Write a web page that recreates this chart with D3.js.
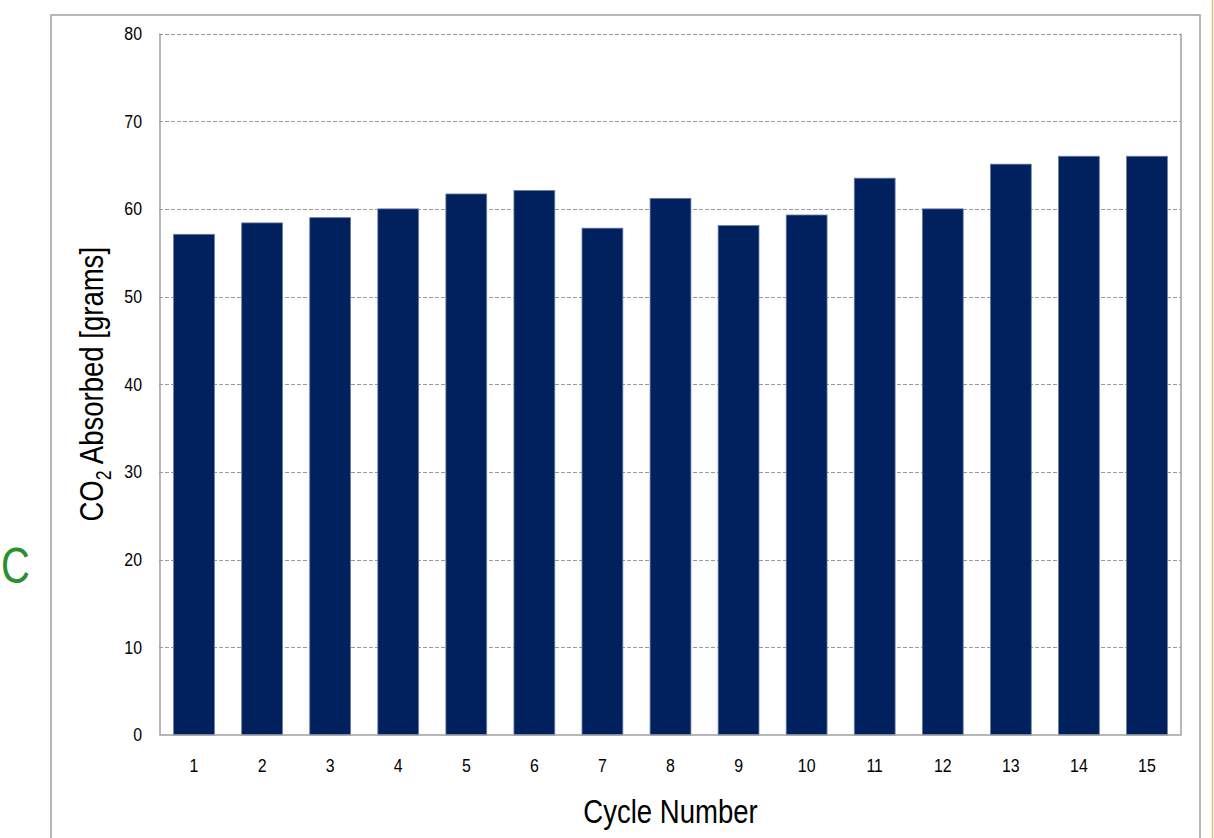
<!DOCTYPE html>
<html>
<head>
<meta charset="utf-8">
<script src="https://cdn.jsdelivr.net/npm/d3@7"></script>
<style>
  html, body { margin: 0; padding: 0; background: #fff; }
  svg { display: block; }
  text { font-family: "Liberation Sans", Arial, sans-serif; }
</style>
</head>
<body>
<svg id="chart" width="1214" height="838"></svg>
<script>
const categories = ["1","2","3","4","5","6","7","8","9","10","11","12","13","14","15"];
const values = [57.1, 58.4, 59.0, 60.0, 61.7, 62.1, 57.8, 61.2, 58.1, 59.3, 63.5, 60.0, 65.1, 66.0, 66.0];
const yTicks = [0, 10, 20, 30, 40, 50, 60, 70, 80];
const yTitle = "CO";
const xTitle = "Cycle Number";

const NARROW = 0.81;
const svg = d3.select("#chart");
const W = 1214, H = 838;
const m = { left: 160, right: 1181, top: 33.5, bottom: 735 };

// outer frame
svg.append("path")
  .attr("d", `M51,${H + 2} L51,15 L1200,15 L1200,${H + 2}`)
  .attr("fill", "none").attr("stroke", "#a0a0a0").attr("stroke-width", 1.5);
// gold vertical line at right
svg.append("line").attr("x1", 1212.5).attr("x2", 1212.5).attr("y1", 0).attr("y2", H)
  .attr("stroke", "#d8c08a").attr("stroke-width", 1.5);

// green C
svg.append("text").attr("transform", "translate(1,583) scale(0.8,1)")
  .attr("font-size", 50).attr("fill", "#2a8f2f").text("C");

const x = d3.scaleBand().domain(categories).range([m.left, m.right]).paddingInner(0.4).paddingOuter(0.2);
const y = d3.scaleLinear().domain([0, 80]).range([m.bottom, m.top]);

// gridlines
svg.append("g").selectAll("line").data(yTicks.filter(d => d > 0)).join("line")
  .attr("x1", m.left - 1).attr("x2", m.right)
  .attr("y1", d => Math.round(y(d)) + 0.5).attr("y2", d => Math.round(y(d)) + 0.5)
  .attr("stroke", "#9a9a9a").attr("stroke-width", 1).attr("stroke-dasharray", "4,2");

// bars
svg.append("g").selectAll("rect").data(values).join("rect")
  .attr("x", (d, i) => x(categories[i]))
  .attr("width", x.bandwidth())
  .attr("y", d => y(d))
  .attr("height", d => y(0) - y(d))
  .attr("fill", "#00205e")
  .attr("stroke", "#6a7ea6").attr("stroke-width", 0.8);

// plot border left, right, bottom
svg.append("path")
  .attr("d", `M${m.left},${m.top} L${m.left},${m.bottom} L${m.right},${m.bottom} L${m.right},${m.top}`)
  .attr("fill", "none").attr("stroke", "#a0a0a0").attr("stroke-width", 1.5);

// y axis labels
const yAxis = d3.axisLeft(y).tickValues(yTicks).tickSize(0).tickPadding(18);
const gy = svg.append("g").attr("transform", `translate(${m.left},0)`).call(yAxis);
gy.select(".domain").remove();
gy.selectAll("text").attr("font-size", 18.5).attr("fill", "#000")
  .attr("x", null).attr("transform", "translate(-18,0) scale(0.86,1)")
  .style("font-family", '"Liberation Sans", Arial, sans-serif');

// x axis labels
const xAxis = d3.axisBottom(x).tickSize(0).tickPadding(24);
const gx = svg.append("g").attr("transform", `translate(0,${m.bottom})`).call(xAxis);
gx.select(".domain").remove();
gx.selectAll("text").attr("font-size", 18.5).attr("fill", "#000")
  .attr("transform", "scale(0.86,1)")
  .style("font-family", '"Liberation Sans", Arial, sans-serif');

// y title
const yt = svg.append("text")
  .attr("transform", `translate(103,${(m.top + m.bottom) / 2}) rotate(-90) scale(${NARROW},1)`)
  .attr("text-anchor", "middle").attr("font-size", 34).attr("fill", "#000");
yt.append("tspan").text(yTitle);
yt.append("tspan").attr("font-size", 22).attr("dy", 8).text("2");
yt.append("tspan").attr("dy", -8).text(" Absorbed [grams]");

// x title
svg.append("text")
  .attr("transform", `translate(${(m.left + m.right) / 2},823) scale(${NARROW},1)`)
  .attr("text-anchor", "middle").attr("font-size", 34).attr("fill", "#000").text(xTitle);
</script>
</body>
</html>
